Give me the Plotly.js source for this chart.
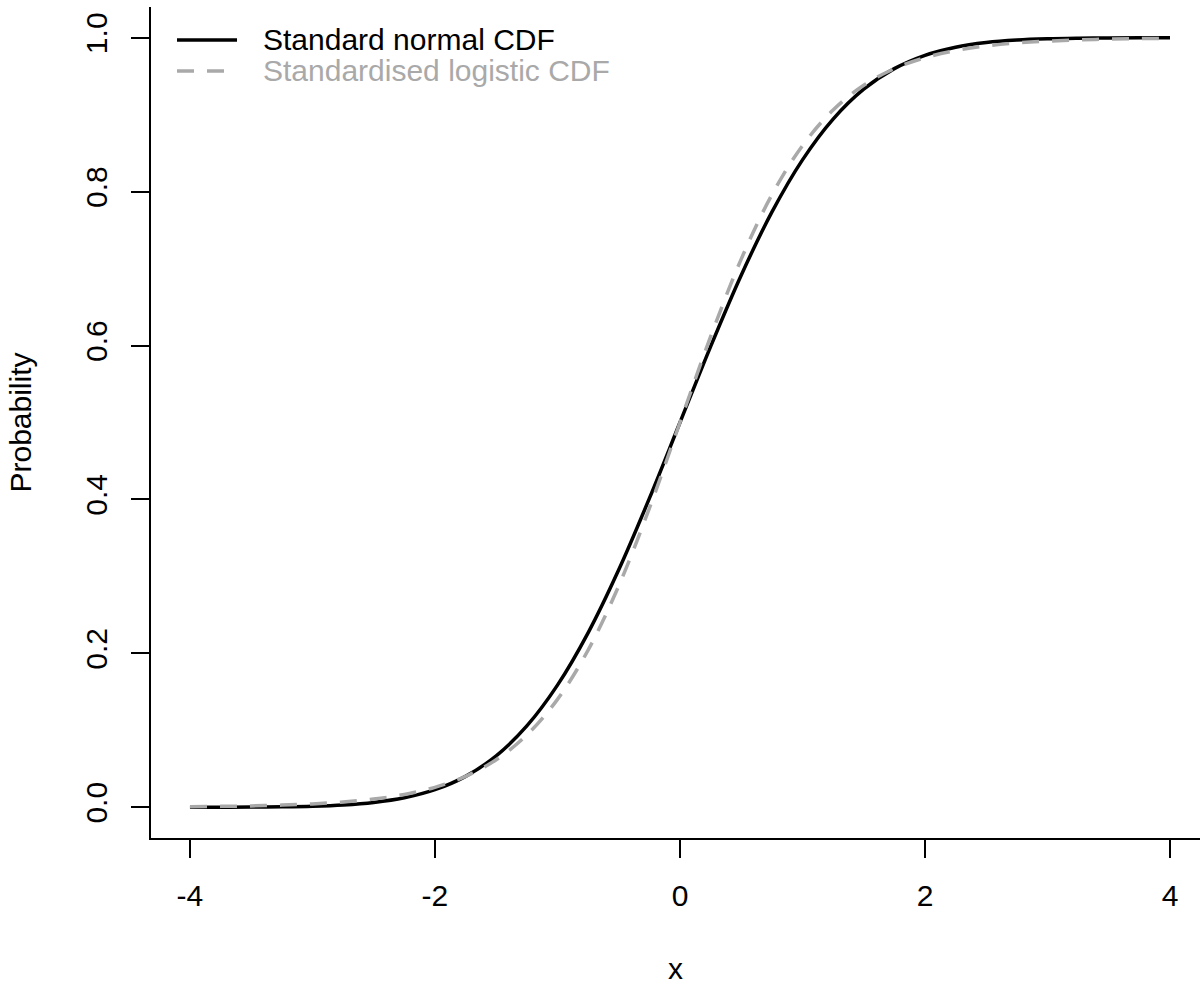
<!DOCTYPE html>
<html>
<head>
<meta charset="utf-8">
<script src="https://cdn.plot.ly/plotly-3.0.1.min.js"></script>
<style>html,body{margin:0;padding:0;background:#fff;}#chart{width:1200px;height:985px;}</style>
</head>
<body>
<div id="chart"></div>
<script>
const xValues = [-4,-3.75,-3.5,-3.25,-3,-2.75,-2.5,-2.25,-2,-1.75,-1.5,-1.25,-1,-0.75,-0.5,-0.25,0,0.25,0.5,0.75,1,1.25,1.5,1.75,2,2.25,2.5,2.75,3,3.25,3.5,3.75,4];
const normalCDF = [0.00003,0.00009,0.00023,0.00058,0.00135,0.00298,0.00621,0.01222,0.02275,0.04006,0.06681,0.10565,0.15866,0.22663,0.30854,0.40129,0.5,0.59871,0.69146,0.77337,0.84134,0.89435,0.93319,0.95994,0.97725,0.98778,0.99379,0.99702,0.99865,0.99942,0.99977,0.99991,0.99997];
const logisticCDF = [0.00071,0.00111,0.00175,0.00274,0.00432,0.00677,0.01062,0.01661,0.02588,0.04018,0.06177,0.09390,0.14018,0.20418,0.28762,0.38853,0.5,0.61147,0.71238,0.79582,0.85982,0.90610,0.93823,0.95982,0.97412,0.98339,0.98938,0.99323,0.99568,0.99726,0.99825,0.99889,0.99929];
const seriesNames = ["Standard normal CDF", "Standardised logistic CDF"];
const xTicks = [-4,-2,0,2,4];
const xTickText = ["-4","-2","0","2","4"];
const yTicks = [0,0.2,0.4,0.6,0.8,1.0];
const yTickText = ["0.0","0.2","0.4","0.6","0.8","1.0"];

const FONT = "Liberation Sans, Arial, sans-serif";
const GRAY = "#A9A9A9";
const FS = 30;
const seriesColors = ["#000000", GRAY];
const seriesDash = ["solid", "17px,13px"];

const traces = [
  {x: xValues, y: normalCDF, type: "scatter", mode: "lines", name: seriesNames[0], showlegend: false,
   line: {color: seriesColors[0], width: 3.5, shape: "spline", smoothing: 1}},
  {x: xValues, y: logisticCDF, type: "scatter", mode: "lines", name: seriesNames[1], showlegend: false,
   line: {color: seriesColors[1], width: 3.5, dash: seriesDash[1], shape: "spline", smoothing: 1}}
];

// Legend (drawn in paper coordinates, top-left inside the plot)
const legendRowsY = [0.9603, 0.9230];
const legendLineX = [0.0248, 0.0820];
const legendTextX = 0.1050;
const shapes = [], annotations = [];
seriesNames.forEach((nm, i) => {
  shapes.push({type: "line", xref: "paper", yref: "paper", x0: legendLineX[0], x1: legendLineX[1],
               y0: legendRowsY[i], y1: legendRowsY[i],
               line: {color: seriesColors[i], width: 3.5, dash: seriesDash[i]}});
  annotations.push({xref: "paper", yref: "paper", x: legendTextX, y: legendRowsY[i], xanchor: "left",
                    yanchor: "middle", showarrow: false, text: nm,
                    font: {family: FONT, size: FS, color: seriesColors[i]}});
});

const layout = {
  width: 1200, height: 985,
  margin: {l: 151, r: 0, t: 7, b: 147, pad: 0},
  paper_bgcolor: "#ffffff", plot_bgcolor: "#ffffff",
  font: {family: FONT, size: FS, color: "#000000"},
  showlegend: false,
  shapes: shapes,
  annotations: annotations,
  xaxis: {range: [-4.318, 4.245], tickvals: xTicks, ticktext: xTickText, ticks: "outside", ticklen: 18, tickwidth: 2,
          tickcolor: "#000", showline: true, linewidth: 2, linecolor: "#000", showgrid: false,
          zeroline: false, tickfont: {family: FONT, size: FS}, ticklabelstandoff: 12,
          title: {text: "x", font: {family: FONT, size: FS}, standoff: 58}},
  yaxis: {range: [-0.04, 1.04], tickvals: yTicks, ticktext: yTickText, tickangle: -90,
          ticks: "outside", ticklen: 18, tickwidth: 2, tickcolor: "#000", showline: true,
          linewidth: 2, linecolor: "#000", showgrid: false, zeroline: false,
          tickfont: {family: FONT, size: FS}, ticklabelstandoff: 12,
          title: {text: "Probability", font: {family: FONT, size: FS}, standoff: 40}}
};

Plotly.newPlot("chart", traces, layout, {displayModeBar: false, staticPlot: true});
</script>
</body>
</html>
